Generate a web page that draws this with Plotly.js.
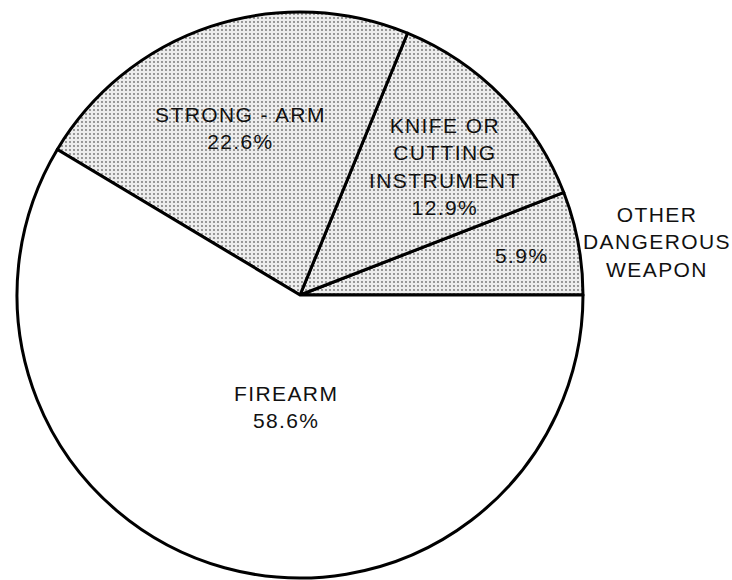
<!DOCTYPE html>
<html>
<head>
<meta charset="utf-8">
<script src="https://cdn.plot.ly/plotly-3.0.1.min.js"></script>
<style>
  html, body { margin: 0; padding: 0; background: #fff; }
  #chart { width: 732px; height: 580px; }
  .annotation-text { letter-spacing: 1.4px; }
</style>
</head>
<body>
<div id="chart"></div>
<script>
// Data (counter-clockwise from 3 o'clock)
var categories = ["OTHER<br>DANGEROUS<br>WEAPON", "KNIFE OR<br>CUTTING<br>INSTRUMENT", "STRONG - ARM", "FIREARM"];
var values = [5.9, 12.9, 22.6, 58.6];
var shaded = [true, true, true, false];

var W = 732, H = 580;
var cx = 300, cy = 295, R = 283;

var total = values.reduce(function (a, b) { return a + b; }, 0);
// Plotly places the first counter-clockwise slice so that it ends at `rotation`;
// shift so that it starts at 3 o'clock.
var rot = 90 - 360 * values[0] / total;

var fillColors = shaded.map(function (s) { return s ? "#e4e4e4" : "#ffffff"; });
var patternShapes = shaded.map(function (s) { return s ? "." : ""; });

var trace = {
  type: "pie",
  values: values,
  labels: categories,
  sort: false,
  direction: "counterclockwise",
  rotation: rot,
  textinfo: "none",
  hoverinfo: "none",
  showlegend: false,
  domain: { x: [(cx - R) / W, (cx + R) / W], y: [1 - (cy + R) / H, 1 - (cy - R) / H] },
  marker: {
    colors: fillColors,
    line: { color: "#000000", width: 3 },
    pattern: { shape: patternShapes, fgcolor: "#707070", bgcolor: "#ededed", size: 4, solidity: 0.16 }
  }
};

function pct(v) { return v.toFixed(1) + "%"; }

// label placements (pixel centres)
var labelPos = [
  { x: 657, y: 241.5, text: categories[0] },
  { x: 445, y: 166.5, text: categories[1] + "<br>" + pct(values[1]) },
  { x: 241, y: 128.5, text: categories[2] + "<br>" + pct(values[2]) },
  { x: 286, y: 406.5, text: categories[3] + "<br>" + pct(values[3]) },
  { x: 521, y: 255, text: pct(values[0]) }
];

var annotations = labelPos.map(function (p) {
  return {
    xref: "paper", yref: "paper",
    x: p.x / W, y: 1 - p.y / H,
    xanchor: "center", yanchor: "middle",
    text: p.text, showarrow: false, align: "center",
    font: { family: "Liberation Sans, Arial, sans-serif", size: 21, color: "#111" }
  };
});

var layout = {
  width: W, height: H,
  margin: { l: 0, r: 0, t: 0, b: 0 },
  paper_bgcolor: "#ffffff",
  plot_bgcolor: "#ffffff",
  annotations: annotations
};

Plotly.newPlot("chart", [trace], layout, { displayModeBar: false, staticPlot: true });
</script>
</body>
</html>
